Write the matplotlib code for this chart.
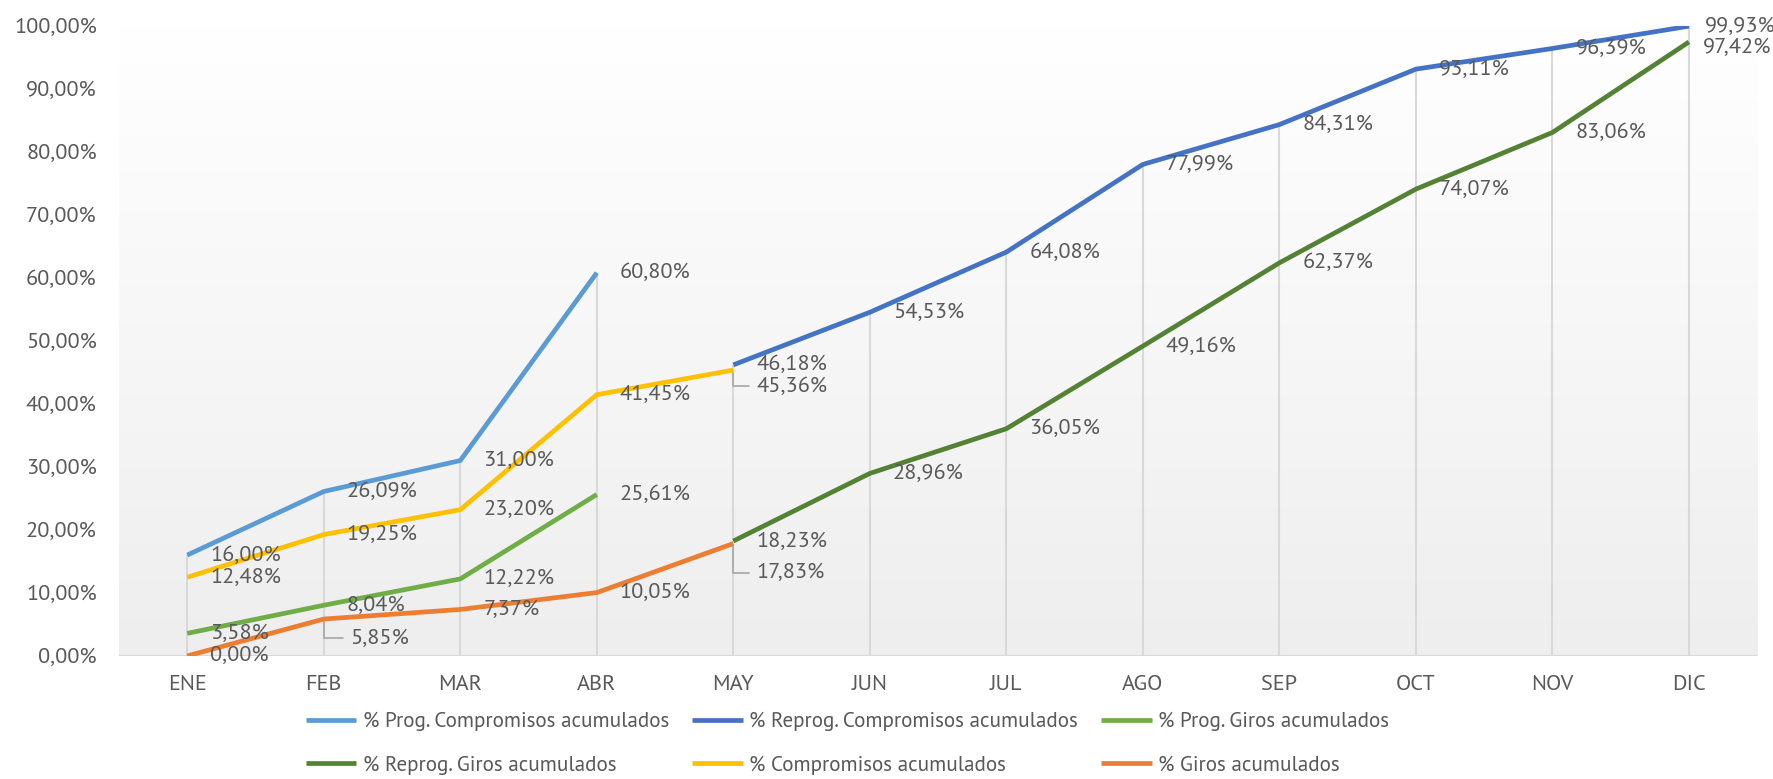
import numpy as np
import matplotlib.pyplot as plt
from matplotlib.colors import LinearSegmentedColormap

plt.rcParams['font.family'] = ['PT Sans', 'PT Sans Narrow', 'DejaVu Sans']

meses = ['ENE', 'FEB', 'MAR', 'ABR', 'MAY', 'JUN', 'JUL', 'AGO', 'SEP', 'OCT', 'NOV', 'DIC']
nan = np.nan
prog_comp = [16.00, 26.09, 31.00, 60.80] + [nan] * 8
reprog_comp = [nan] * 4 + [46.18, 54.53, 64.08, 77.99, 84.31, 93.11, 96.39, 99.93]
prog_giros = [3.58, 8.04, 12.22, 25.61] + [nan] * 8
reprog_giros = [nan] * 4 + [18.23, 28.96, 36.05, 49.16, 62.37, 74.07, 83.06, 97.42]
comp = [12.48, 19.25, 23.20, 41.45, 45.36] + [nan] * 7
giros = [0.00, 5.85, 7.37, 10.05, 17.83] + [nan] * 7

series = [
    ('% Prog. Compromisos acumulados', prog_comp, '#5B9BD5'),
    ('% Reprog. Compromisos acumulados', reprog_comp, '#4472C4'),
    ('% Prog. Giros acumulados', prog_giros, '#70AD47'),
    ('% Reprog. Giros acumulados', reprog_giros, '#548235'),
    ('% Compromisos acumulados', comp, '#FFC000'),
    ('% Giros acumulados', giros, '#ED7D31'),
]

# labels moved by hand (series, month) -> offset in pixels, with leader line
movidos = {(5, 1): (26, -19), (4, 4): (23, -16), (5, 4): (23, -29)}
ajustes = {(1, 11): (16, 0), (3, 11): (14, -6)}

txt = '#595959'
fs = 16

fig = plt.figure(figsize=(17.73, 7.79), dpi=100)
ax = fig.add_axes([0.0671, 0.158, 0.924, 0.809])

# gradient background (white at top, light gray at bottom)
grad = np.linspace(0, 1, 256).reshape(-1, 1)
cmap = LinearSegmentedColormap.from_list('g', ['#FFFFFF', '#EEEEEE'])
ax.imshow(grad, extent=(0, 1, 0, 1), transform=ax.transAxes, aspect='auto',
          cmap=cmap, zorder=0, vmin=0, vmax=1)

x = np.arange(len(meses))
tabla = np.array([s[1] for s in series], dtype=float)
maximos = np.nanmax(tabla, axis=0)
ax.vlines(x, 0, maximos, color='#D9D9D9', lw=1.5, zorder=1)
ax.axhline(0, color='#D9D9D9', lw=1.5, zorder=1)

handles = []
for i, (nombre, vals, color) in enumerate(series):
    h, = ax.plot(x, vals, color=color, lw=3.4, label=nombre, zorder=3 + i,
                 solid_capstyle='butt')
    handles.append(h)
    for j, v in enumerate(vals):
        if np.isnan(v):
            continue
        etiqueta = f'{v:.2f}%'.replace('.', ',')
        if (i, j) in movidos:
            dx, dy = movidos[(i, j)]
            ax.annotate(etiqueta, (j, v), xytext=(dx, dy), textcoords='offset pixels',
                        ha='left', va='center', fontsize=fs, color=txt, zorder=20,
                        arrowprops=dict(arrowstyle='-', color='#A6A6A6', lw=1.2,
                                        connectionstyle='angle,angleA=0,angleB=90,rad=0',
                                        relpos=(0, 0.5), shrinkA=3, shrinkB=2))
        else:
            dx, dy = ajustes.get((i, j), (23, 0))
            ax.annotate(etiqueta, (j, v), xytext=(dx, dy), textcoords='offset pixels',
                        ha='left', va='center', fontsize=fs, color=txt, zorder=20,
                        annotation_clip=False)

ax.set_xlim(-0.5, 11.5)
ax.set_ylim(0, 100)
ax.set_xticks(x)
ax.set_xticklabels(meses)
yt = np.arange(0, 101, 10)
ax.set_yticks(yt)
ax.set_yticklabels([f'{v:.2f}%'.replace('.', ',') for v in yt])
ax.tick_params(axis='both', length=0, labelsize=fs, labelcolor=txt)
ax.tick_params(axis='y', pad=16)
ax.tick_params(axis='x', pad=14)
for s in ax.spines.values():
    s.set_visible(False)

orden = [0, 3, 1, 4, 2, 5]
fig.legend([handles[k] for k in orden], [series[k][0] for k in orden],
           loc='center', bbox_to_anchor=(0.478, 0.046), ncol=3, frameon=False,
           fontsize=15.2, labelcolor=txt, handlelength=2.4, handletextpad=0.3,
           columnspacing=1.1, labelspacing=1.15)

fig.savefig('out.png', dpi=100)
